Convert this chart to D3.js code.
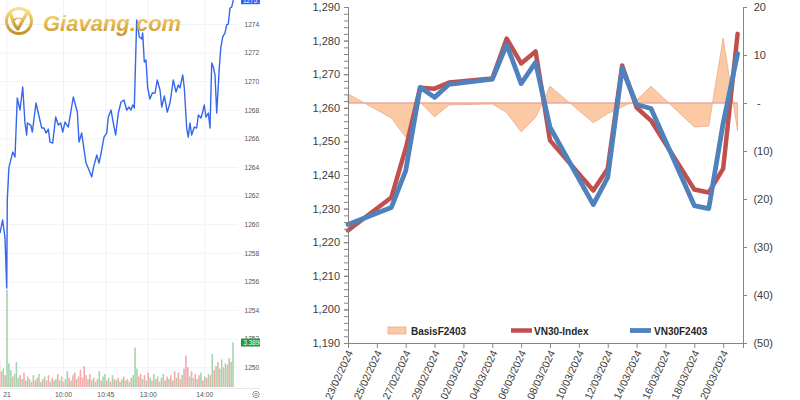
<!DOCTYPE html>
<html><head><meta charset="utf-8">
<script src="https://cdn.jsdelivr.net/npm/d3@7"></script>
<style>body{margin:0;background:#fff}svg{display:block}</style>
</head><body><svg id="c" width="800" height="400"></svg>
<script>
// ===== Right chart: VN30-Index vs VN30F2403 and basis =====
const dates = ["2024-02-23","2024-02-26","2024-02-27","2024-02-28","2024-02-29","2024-03-01","2024-03-04","2024-03-05","2024-03-06","2024-03-07","2024-03-08","2024-03-11","2024-03-12","2024-03-13","2024-03-14","2024-03-15","2024-03-18","2024-03-19","2024-03-20","2024-03-21"];
const vn30Index = [1223.5,1233.3,1247.9,1266.0,1265.7,1267.5,1268.7,1280.6,1273.2,1276.8,1250.3,1235.4,1241.9,1272.6,1260.1,1256.2,1235.7,1234.8,1241.9,1282.0];
const vn30F2403 = [1225.3,1230.3,1241.3,1266.1,1263.1,1267.0,1268.5,1278.8,1267.2,1273.5,1254.2,1231.2,1239.3,1271.7,1261.0,1259.8,1230.9,1230.0,1255.4,1276.1];
const basisF2403 = [1.9,-3.1,-7.1,0.2,-2.9,-0.4,-0.2,-2.0,-6.0,-3.0,3.5,-4.1,-2.2,-0.8,0.6,3.5,-5.0,-4.8,13.5,-5.8];
const leftTicks = [1190,1200,1210,1220,1230,1240,1250,1260,1270,1280,1290];
const rightTicks = [-50,-40,-30,-20,-10,0,10,20];
const dateTickLabels = ["23/02/2024","25/02/2024","27/02/2024","29/02/2024","02/03/2024","04/03/2024","06/03/2024","08/03/2024","10/03/2024","12/03/2024","14/03/2024","16/03/2024","18/03/2024","20/03/2024"];
const seriesNames = ["BasisF2403","VN30-Index","VN30F2403"];

// ===== Left chart: intraday VN30F futures (Giavang.com) =====
const intradayMinutes = [-7.4,-4.6,-2.1,-0.3,0.3,2.1,6.1,8.5,10.9,13.8,16.7,19.1,20.9,21.6,25.2,26.9,30.8,33.2,36.9,39.3,41.4,43.9,45.7,48.5,51.7,54.5,57.0,59.2,61.6,65.1,70.4,74.7,76.5,79.3,83.9,87.1,90.0,91.7,95.3,97.7,99.5,103.0,105.9,107.6,110.5,112.9,115.4,118.2,121.1,124.2,127.1,129.6,131.7,133.5,135.2,137.7,140.5,143.1,144.1,145.8,147.6,149.4,151.8,154.3,157.2,159.6,162.5,164.3,167.1,170.2,173.1,176.6,179.5,181.9,183.7,186.6,188.3,190.8,192.5,194.3,196.1,198.9,201.5,203.2,206.0,207.8,209.5,211.3,213.8,215.6,217.4,219.1,220.9,222.7,225.5,227.0,229.1,231.5,233.3,235.0,236.8,238.6,240.3];
const intradayPrice = [1259.42,1260.33,1259.07,1255.57,1261.73,1264.03,1265.08,1264.73,1268.86,1268.02,1269.63,1267.11,1266.27,1267.11,1266.97,1266.48,1268.51,1267.81,1266.76,1266.76,1266.41,1266.69,1265.78,1265.71,1267.53,1266.97,1267.11,1266.48,1267.18,1266.83,1268.93,1267.88,1265.78,1266.41,1264.31,1263.83,1263.34,1263.97,1264.87,1264.31,1264.87,1266.13,1266.41,1267.53,1268.02,1267.11,1266.27,1267.81,1268.58,1268.72,1268.02,1268.23,1268.02,1268.37,1268.16,1274.31,1273.13,1272.99,1273.41,1271.38,1271.52,1269.56,1268.79,1269.21,1269.21,1270.12,1269.42,1268.23,1269.00,1267.88,1268.51,1270.12,1269.28,1269.77,1269.56,1270.47,1269.56,1266.76,1266.13,1267.11,1266.27,1266.83,1266.76,1267.67,1267.46,1267.88,1268.37,1267.53,1267.81,1266.76,1271.31,1271.03,1270.47,1267.81,1271.03,1272.36,1273.13,1273.41,1273.97,1274.03,1275.15,1275.22,1275.70];
const volumeK = [2.0,1.2,1.4,0.9,7.4,1.8,1.3,0.8,1.0,1.9,
 0.7,0.9,0.6,1.1,0.5,0.8,0.6,0.4,0.9,0.5,
 0.7,1.0,0.4,0.6,0.8,0.5,0.9,0.4,0.7,0.5,
 0.6,1.0,0.5,0.8,0.4,0.6,1.2,0.7,0.5,0.9,
 1.1,0.6,0.8,1.3,0.7,1.6,0.9,0.6,1.0,0.5,
 0.7,0.4,0.6,1.2,0.5,0.8,1.0,0.5,0.7,0.4,
 0.9,0.6,0.5,0.7,0.4,0.6,0.8,0.5,0.6,0.4,
 0.7,0.9,3.0,1.4,0.8,1.0,0.6,0.9,0.5,1.1,
 0.7,0.5,1.0,0.6,0.8,0.4,0.7,1.0,0.5,0.8,
 0.6,0.9,0.5,1.2,0.7,1.1,0.6,0.9,1.4,2.4,
 1.5,0.8,1.2,0.7,1.0,0.6,0.9,1.1,0.5,0.8,
 0.7,1.0,0.9,2.5,1.3,1.6,1.9,1.4,2.1,1.5,
 1.8,1.7,2.2,1.9,3.389];
const volumeDir = ("dduduuuduu"+"ududududud"+"duududdudu"+"ududduudud"+"dudddddudu"+"dududuudud"+"ududuududu"+"duuuddudud"+"udududuudd"+"udududdudd"+"dududududu"+"dudududuud"+"uuduu").split("");
const volumeStartMinute = -8, volumeStepMinutes = 2;
const priceAxisLabels = [1250,1252,1254,1256,1258,1260,1262,1264,1266,1268,1270,1272,1274];
const timeTickMinutes = [0,60,105,150,210];
const timeTickLabels = ["21","10:00","10:45","13:00","14:00"];
const lastPriceLabel = "1275.70";
const lastVolumeLabel = "3.389K";

// ------------------------------------------------------------
const svg = d3.select("#c");
const defs = svg.append("defs");
const gold = defs.append("linearGradient").attr("id","gold").attr("x1",0).attr("y1",0).attr("x2",0).attr("y2",1);
gold.append("stop").attr("offset","0%").attr("stop-color","#f8e08e");
gold.append("stop").attr("offset","55%").attr("stop-color","#e2b54c");
gold.append("stop").attr("offset","100%").attr("stop-color","#c3922c");
defs.append("clipPath").attr("id","leftclip").append("rect").attr("x",0).attr("y",0).attr("width",260).attr("height",400);

// ===== LEFT PANEL =====
const L = svg.append("g").attr("clip-path","url(#leftclip)");
const xI = d3.scaleLinear().domain([0,240]).range([7,233]);
const yI = d3.scaleLinear().domain([1250,1274]).range([367.7,24.5]);
const yV = d3.scaleLinear().domain([0,3.389]).range([387,342.5]);
const tvFont = "'Liberation Sans', Arial, sans-serif";

// grid
L.selectAll("line.hg").data(priceAxisLabels).join("line")
  .attr("x1",0).attr("x2",238).attr("y1",d=>yI(d)).attr("y2",d=>yI(d))
  .attr("stroke","#f0f2f6").attr("stroke-width",1);
L.selectAll("line.vg").data(timeTickMinutes).join("line")
  .attr("x1",d=>xI(d)).attr("x2",d=>xI(d)).attr("y1",0).attr("y2",388)
  .attr("stroke","#f0f2f6").attr("stroke-width",1);

// volume bars
L.selectAll("rect.vol").data(volumeK).join("rect")
  .attr("x",(d,i)=>xI(volumeStartMinute+i*volumeStepMinutes)-0.8)
  .attr("width",1.6)
  .attr("y",d=>yV(d)).attr("height",d=>yV(0)-yV(d))
  .attr("fill",(d,i)=>volumeDir[i]==="u"?"#a6d4ad":"#f4aaaa");

// price line
const pts = intradayMinutes.map((m,i)=>[m,intradayPrice[i]]);
L.append("path").datum(pts)
  .attr("d",d3.line().x(d=>xI(d[0])).y(d=>yI(d[1])))
  .attr("fill","none").attr("stroke","#3467ee").attr("stroke-width",1.4).attr("stroke-linejoin","round");

// bottom border
L.append("line").attr("x1",0).attr("x2",260).attr("y1",388.5).attr("y2",388.5).attr("stroke","#e6e8ee");

// price axis labels
L.selectAll("text.pl").data(priceAxisLabels).join("text")
  .attr("x",244.5).attr("y",d=>yI(d)+2.3)
  .attr("font-family",tvFont).attr("font-size",6.6).attr("fill","#555")
  .text(d=>d.toFixed(2));

// last price tag
L.append("rect").attr("x",241).attr("y",yI(1275.7)-4).attr("width",22).attr("height",8).attr("fill","#2962ff");
L.append("text").attr("x",243).attr("y",yI(1275.7)+2.3).attr("font-family",tvFont).attr("font-size",6.3).attr("fill","#fff").text(lastPriceLabel);
// volume tag
L.append("rect").attr("x",241).attr("y",yV(3.389)-4).attr("width",22).attr("height",8).attr("fill","#1f9a38");
L.append("text").attr("x",243.5).attr("y",yV(3.389)+2.3).attr("font-family",tvFont).attr("font-size",6.3).attr("fill","#fff").text(lastVolumeLabel);

// time axis labels
L.selectAll("text.tl").data(timeTickMinutes).join("text")
  .attr("x",d=>xI(d)).attr("y",397).attr("text-anchor","middle")
  .attr("font-family",tvFont).attr("font-size",6.8).attr("fill","#555")
  .text((d,i)=>timeTickLabels[i]);
// settings icon
L.append("circle").attr("cx",256).attr("cy",394.5).attr("r",3.2).attr("fill","none").attr("stroke","#777").attr("stroke-width",0.8);
L.append("circle").attr("cx",256).attr("cy",394.5).attr("r",1.2).attr("fill","none").attr("stroke","#777").attr("stroke-width",0.7);

// logo
const logo = L.append("g");
logo.append("circle").attr("cx",19).attr("cy",21).attr("r",12.5).attr("fill","none").attr("stroke","url(#gold)").attr("stroke-width",3);
logo.append("path").attr("d","M11,15 Q14,26 18,29 L28,11").attr("fill","none").attr("stroke","url(#gold)").attr("stroke-width",3.2).attr("stroke-linecap","round").attr("stroke-linejoin","round");
logo.append("path").attr("d","M14,20 Q18,16 22,19").attr("fill","none").attr("stroke","url(#gold)").attr("stroke-width",1.8);
logo.append("text").attr("x",43).attr("y",31)
  .attr("font-family","'Liberation Sans', Arial, sans-serif").attr("font-weight","bold").attr("font-style","italic")
  .attr("font-size",22).attr("fill","url(#gold)").text("Giavang.com");

// ===== RIGHT PANEL =====
const R = svg.append("g");
const xfont = "'Liberation Sans', Arial, sans-serif";
const parse = d3.utcParse("%Y-%m-%d");
const parseLbl = d3.utcParse("%d/%m/%Y");
const d0 = parse(dates[0]);
const x = d3.scaleUtc().domain([d0, d3.utcHour.offset(d0, 27.4*24)]).range([348,743]);
const yL = d3.scaleLinear().domain([1190,1290]).range([343,7]);
const yR = d3.scaleLinear().domain([-50,20]).range([343,7]);
const axisColor = "#868686", txt = "#404040";

// basis area (right axis)
const rows = dates.map((d,i)=>({d:parse(d), a:vn30Index[i], f:vn30F2403[i], b:basisF2403[i]}));
R.append("path").datum(rows)
  .attr("d",d3.area().x(d=>x(d.d)).y0(yR(0)).y1(d=>yR(d.b)))
  .attr("fill","#fbcaa5").attr("stroke","#eaa88c").attr("stroke-width",0.8);
R.append("line").attr("x1",x(rows[0].d)).attr("x2",x(rows[rows.length-1].d)).attr("y1",yR(0)).attr("y2",yR(0))
  .attr("stroke","#e7a3a3").attr("stroke-width",1);

// lines
R.append("path").datum(rows).attr("d",d3.line().x(d=>x(d.d)).y(d=>yL(d.a)))
  .attr("fill","none").attr("stroke","#c0504d").attr("stroke-width",4.5).attr("stroke-linejoin","round").attr("stroke-linecap","round");
R.append("path").datum(rows).attr("d",d3.line().x(d=>x(d.d)).y(d=>yL(d.f)))
  .attr("fill","none").attr("stroke","#4f81bd").attr("stroke-width",4.8).attr("stroke-linejoin","round").attr("stroke-linecap","round");

// left axis
const minorTicks = d3.range(1190,1291,2);
const gl = R.append("g").attr("transform","translate(348,0)")
  .call(d3.axisLeft(yL).tickValues(minorTicks).tickSize(4).tickFormat(""));
const gl2 = R.append("g").attr("transform","translate(348,0)")
  .call(d3.axisLeft(yL).tickValues(leftTicks).tickSize(4).tickPadding(4).tickFormat(d3.format(",")));
[gl,gl2].forEach(g=>{
  g.select(".domain").attr("stroke",axisColor);
  g.selectAll(".tick line").attr("stroke",axisColor);
  g.selectAll("text").attr("font-family",xfont).attr("font-size",11).attr("fill",txt);
});

// right axis
const gr = R.append("g").attr("transform","translate(743,0)")
  .call(d3.axisRight(yR).tickValues(rightTicks).tickSize(4).tickFormat(""));
gr.select(".domain").attr("stroke",axisColor);
gr.selectAll(".tick line").attr("stroke",axisColor);
R.selectAll("text.rl").data(rightTicks).join("text")
  .attr("x",d=>d>0?766:(d<0?773:757)).attr("y",d=>yR(d)+4)
  .attr("text-anchor",d=>d===0?"start":"end")
  .attr("font-family",xfont).attr("font-size",11).attr("fill",txt)
  .text(d=>d>0?String(d):(d<0?"("+(-d)+")":"-"));

// bottom axis
const tickDates = dateTickLabels.map(s=>parseLbl(s));
const gb = R.append("g").attr("transform","translate(0,343)")
  .call(d3.axisBottom(x).tickValues(tickDates).tickSize(5).tickFormat(""));
gb.select(".domain").attr("stroke",axisColor);
gb.selectAll(".tick line").attr("stroke",axisColor);
R.selectAll("text.dl").data(tickDates).join("text")
  .attr("transform",d=>`translate(${x(d)+2},351) rotate(-65)`)
  .attr("text-anchor","end").attr("dy","0.35em")
  .attr("font-family",xfont).attr("font-size",10.5).attr("fill",txt)
  .text((d,i)=>dateTickLabels[i]);

// legend
const lg = R.append("g").attr("font-family",xfont).attr("font-size",10).attr("font-weight","bold").attr("fill","#262626");
lg.append("rect").attr("x",388).attr("y",327).attr("width",18).attr("height",7).attr("fill","#fbcaa5").attr("stroke","#eaa88c").attr("stroke-width",0.8);
lg.append("text").attr("x",411).attr("y",334.5).text(seriesNames[0]);
lg.append("line").attr("x1",511).attr("x2",532).attr("y1",330.5).attr("y2",330.5).attr("stroke","#c0504d").attr("stroke-width",4.5);
lg.append("text").attr("x",534).attr("y",334.5).text(seriesNames[1]);
lg.append("line").attr("x1",630).attr("x2",651).attr("y1",330.5).attr("y2",330.5).attr("stroke","#4f81bd").attr("stroke-width",4.8);
lg.append("text").attr("x",654).attr("y",334.5).text(seriesNames[2]);
</script></body></html>
